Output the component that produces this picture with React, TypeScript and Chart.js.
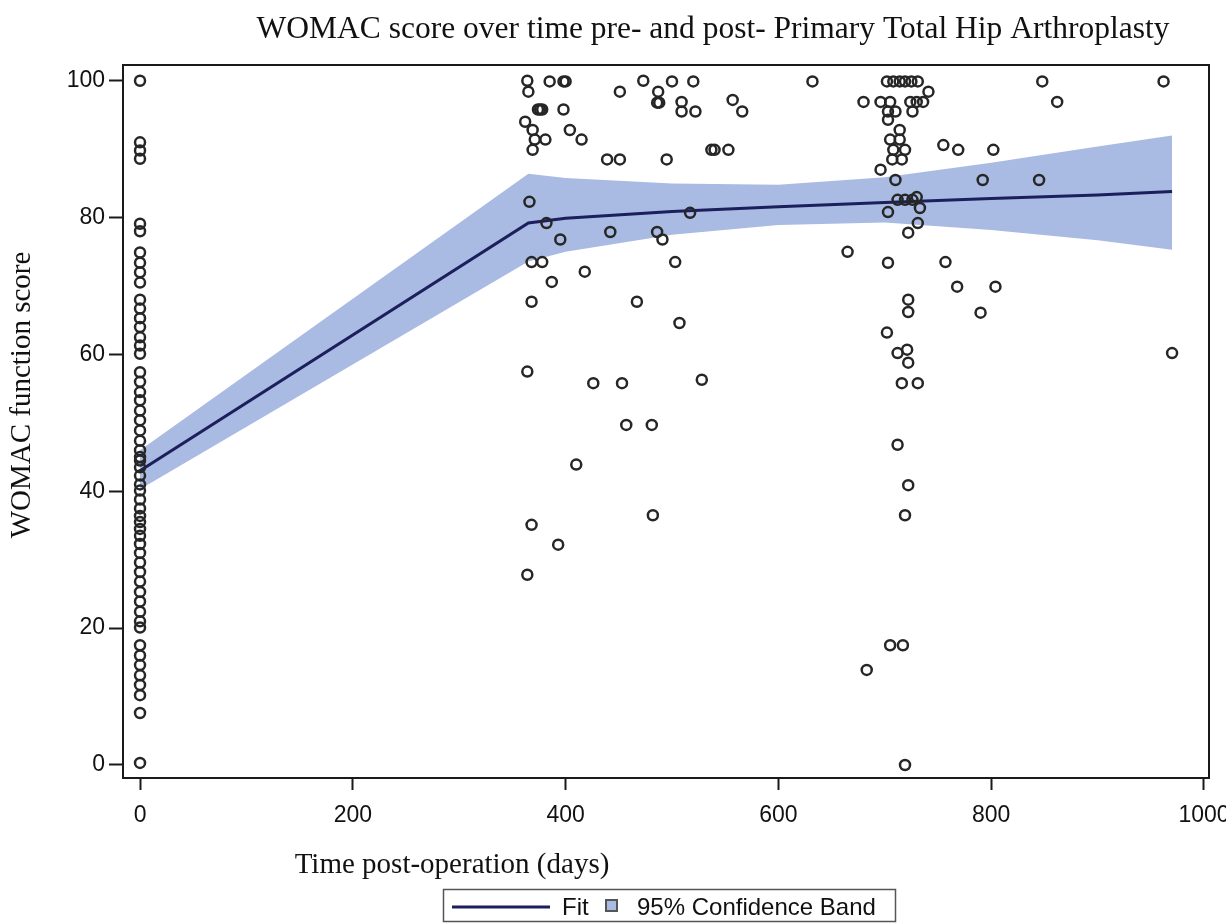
import React, { useEffect, useRef } from 'react';
import { Chart, registerables } from 'chart.js';

Chart.register(...registerables);

// ---------- data ----------
const titleText = 'WOMAC score over time pre- and post- Primary Total Hip Arthroplasty';
const xTitle = 'Time post-operation (days)';
const yTitle = 'WOMAC function score';
const legendLabels = ['Fit', '95% Confidence Band'];
const xTicks = [0, 200, 400, 600, 800, 1000];
const yTicks = [0, 20, 40, 60, 80, 100];

// pre-operative scores (day 0)
const baselineScores = [
  100, 91, 89.8, 88.6, 79.1, 78, 74.9, 73.4, 72, 70.5, 68, 66.7, 65.3, 64, 62.5, 61.3, 60.1,
  57.4, 56, 54.5, 53.3, 51.8, 50.4, 48.9, 47.4, 46, 45, 44.5, 43.5, 42.3, 41, 40.1, 38.8,
  37.5, 36.4, 35.5, 34.5, 33.5, 32.3, 31, 29.6, 28.2, 26.8, 25.3, 23.9, 22.4, 21, 20.1,
  17.5, 16, 14.6, 13.1, 11.7, 10.2, 7.6, 0.3,
];

// post-operative follow-up observations
const followupDays = [
  364, 365, 385, 398, 400, 451, 473, 487, 486, 488, 500, 520, 509, 509, 522, 557, 566, 632,
  374, 376, 378, 362, 369, 371, 381, 369, 398, 404, 415, 439, 451, 495, 537, 540, 553,
  366, 382, 395, 442, 486, 491, 517, 368, 378, 387, 418, 368, 467, 503, 507, 364, 426, 453,
  528, 457, 481, 410, 482, 368, 393, 364,
  702, 708, 714, 719, 725, 731, 741, 680, 696, 705, 724, 730, 736, 703, 710, 726, 703, 714,
  705, 714, 708, 719, 707, 716, 696, 710, 755, 769, 802, 792, 712, 719, 726, 730, 733, 703,
  731, 722, 665, 703, 757, 768, 804, 722, 722, 790, 702, 712, 721, 722, 716, 731, 712, 722,
  719, 705, 717, 683, 719,
  848, 862, 962, 845, 970,
];
const followupScores = [
  100, 98.4, 99.9, 99.9, 99.9, 98.4, 100, 98.4, 96.8, 96.8, 99.9, 99.9, 96.9, 95.5, 95.5, 97.2, 95.5, 99.9,
  95.8, 95.8, 95.8, 94, 92.8, 91.4, 91.4, 89.9, 95.8, 92.8, 91.4, 88.5, 88.5, 88.5, 89.9, 89.9, 89.9,
  82.3, 79.2, 76.8, 77.9, 77.9, 76.8, 80.7, 73.5, 73.5, 70.6, 72.1, 67.7, 67.7, 73.5, 64.6, 57.5, 55.8, 55.8,
  56.3, 49.7, 49.7, 43.9, 36.5, 35.1, 32.2, 27.8,
  99.9, 99.9, 99.9, 99.9, 99.9, 99.9, 98.4, 96.9, 96.9, 96.9, 96.9, 96.9, 96.9, 95.5, 95.5, 95.5, 94.3, 92.8,
  91.4, 91.4, 89.9, 89.9, 88.5, 88.5, 87, 85.5, 90.6, 89.9, 89.9, 85.5, 82.6, 82.6, 82.6, 83, 81.4, 80.8,
  79.2, 77.8, 75, 73.4, 73.5, 69.9, 69.9, 68, 66.2, 66.1, 63.2, 60.2, 60.7, 58.8, 55.8, 55.8, 46.8, 40.9,
  36.5, 17.5, 17.5, 13.9, 0,
  99.9, 96.9, 99.9, 85.5, 60.2,
];

// fitted piecewise model and 95% confidence band
const fitDays = [0, 365, 400, 500, 600, 700, 800, 900, 970];
const fitScores = [43, 79.2, 79.9, 80.9, 81.6, 82.2, 82.8, 83.3, 83.8];
const bandUpper = [46, 86.4, 85.8, 85.0, 84.8, 85.9, 88.0, 90.4, 92.0];
const bandLower = [40.3, 73.6, 75.0, 77.5, 78.9, 79.3, 78.2, 76.7, 75.3];

// ---------- styles ----------
const W = 1226;
const H = 923;
const BAND = '#a9bbe3';
const FIT = '#1c1f5c';
const INK = '#1a1a1a';
const SANS = '"Liberation Sans", Arial, sans-serif';
const SERIF = '"Liberation Serif", "Times New Roman", serif';

const decorPlugin = {
  id: 'decor',
  afterDraw(chart: any) {
    const { ctx, chartArea: a } = chart;
    ctx.save();
    // plot frame
    ctx.strokeStyle = INK;
    ctx.lineWidth = 2;
    ctx.strokeRect(a.left, a.top, a.right - a.left, a.bottom - a.top);

    // title
    ctx.fillStyle = '#111';
    ctx.font = `31.5px ${SERIF}`;
    ctx.textAlign = 'center';
    ctx.textBaseline = 'middle';
    ctx.fillText(titleText, 713, 30);

    // x title
    ctx.font = `29px ${SERIF}`;
    ctx.fillText(xTitle, 452, 865);

    // y title
    ctx.save();
    ctx.translate(22, 395);
    ctx.rotate(-Math.PI / 2);
    ctx.fillText(yTitle, 0, 0);
    ctx.restore();

    // legend
    ctx.strokeStyle = '#555';
    ctx.lineWidth = 1.5;
    ctx.strokeRect(443.5, 889.5, 452, 32);
    ctx.strokeStyle = FIT;
    ctx.lineWidth = 3;
    ctx.beginPath();
    ctx.moveTo(452, 907);
    ctx.lineTo(550, 907);
    ctx.stroke();
    ctx.font = `24px ${SANS}`;
    ctx.textAlign = 'left';
    ctx.textBaseline = 'alphabetic';
    ctx.fillStyle = '#111';
    ctx.fillText(legendLabels[0], 562, 915);
    ctx.fillStyle = BAND;
    ctx.fillRect(606, 900, 11, 11);
    ctx.strokeStyle = '#555';
    ctx.lineWidth = 2;
    ctx.strokeRect(606, 900, 11, 11);
    ctx.fillStyle = '#111';
    ctx.fillText(legendLabels[1], 637, 915);
    ctx.restore();
  },
};

export default function App() {
  const ref = useRef<HTMLCanvasElement | null>(null);

  useEffect(() => {
    if (!ref.current) return;
    const pts = baselineScores
      .map((y) => ({ x: 0, y }))
      .concat(followupDays.map((d, i) => ({ x: d, y: followupScores[i] })));
    const toXY = (vals: number[]) => fitDays.map((d, i) => ({ x: d, y: vals[i] }));

    const chart = new Chart(ref.current, {
      type: 'scatter',
      data: {
        datasets: [
          {
            label: 'lower',
            data: toXY(bandLower),
            showLine: true,
            borderColor: 'rgba(0,0,0,0)',
            borderWidth: 0,
            pointRadius: 0,
            fill: false,
            order: 4,
          },
          {
            label: legendLabels[1],
            data: toXY(bandUpper),
            showLine: true,
            borderColor: 'rgba(0,0,0,0)',
            borderWidth: 0,
            pointRadius: 0,
            backgroundColor: BAND,
            fill: '-1',
            order: 3,
          },
          {
            label: legendLabels[0],
            data: toXY(fitScores),
            showLine: true,
            borderColor: FIT,
            borderWidth: 3,
            pointRadius: 0,
            fill: false,
            order: 2,
          },
          {
            label: 'Observed',
            data: pts,
            pointRadius: 5,
            pointBorderWidth: 2.5,
            borderColor: '#262626',
            backgroundColor: 'rgba(0,0,0,0)',
            order: 1,
          },
        ],
      },
      options: {
        responsive: false,
        animation: false,
        devicePixelRatio: 1,
        layout: { padding: { left: 0, right: 17, top: 65, bottom: 0 } },
        plugins: {
          legend: { display: false },
          tooltip: { enabled: false },
          title: { display: false },
        },
        scales: {
          x: {
            type: 'linear',
            min: -16,
            max: 1004.7,
            afterBuildTicks(scale: any) {
              scale.ticks = xTicks.map((v) => ({ value: v }));
            },
            afterFit(scale: any) {
              scale.height = H - 778;
              scale.paddingLeft = 0;
              scale.paddingRight = 0;
            },
            ticks: {
              color: '#111',
              font: { family: SANS, size: 23 },
              padding: 12,
              maxRotation: 0,
              autoSkip: false,
              callback: (v: any) => String(v),
            },
            grid: {
              drawOnChartArea: false,
              drawTicks: true,
              tickLength: 12,
              tickWidth: 2,
              tickColor: INK,
            },
            border: { display: false },
          },
          y: {
            type: 'linear',
            min: -1.9,
            max: 102.3,
            afterBuildTicks(scale: any) {
              scale.ticks = yTicks.map((v) => ({ value: v }));
            },
            afterFit(scale: any) {
              scale.width = 123;
              scale.paddingTop = 0;
              scale.paddingBottom = 0;
            },
            ticks: {
              color: '#111',
              font: { family: SANS, size: 23 },
              padding: 4,
              autoSkip: false,
              callback: (v: any) => String(v),
            },
            grid: {
              drawOnChartArea: false,
              drawTicks: true,
              tickLength: 14,
              tickWidth: 2,
              tickColor: INK,
            },
            border: { display: false },
          },
        },
      },
      plugins: [decorPlugin],
    });
    return () => chart.destroy();
  }, []);

  return (
    <div style={{ position: 'fixed', left: 0, top: 0, width: W, height: H, background: '#fff' }}>
      <canvas ref={ref} width={W} height={H} style={{ width: W, height: H, display: 'block' }} />
    </div>
  );
}
